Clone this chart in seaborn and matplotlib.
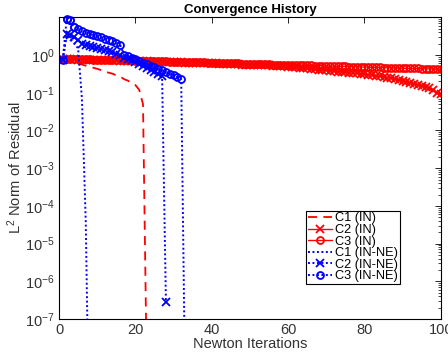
import numpy as np
import pandas as pd
import matplotlib
matplotlib.use("Agg")
import matplotlib.pyplot as plt
import seaborn as sns
from matplotlib.ticker import LogLocator, NullFormatter, FixedLocator

# ---------------- data ----------------
c1_in_iter = list(range(1, 24))
c1_in_res = [0.75, 0.72, 0.67, 0.63, 0.59, 0.56, 0.52, 0.49, 0.46, 0.43,
             0.40, 0.37, 0.34, 0.32, 0.29, 0.27, 0.23, 0.21, 0.18, 0.16,
             0.12, 0.05, 3e-9]

c2_in_iter = list(range(1, 101))
c2_in_res = [0.78, 0.78, 0.77, 0.77, 0.76, 0.76, 0.75, 0.75, 0.74, 0.74,
             0.73, 0.73, 0.73, 0.72, 0.72, 0.71, 0.71, 0.70, 0.70, 0.69,
             0.69, 0.68, 0.68, 0.67, 0.67, 0.66, 0.66, 0.65, 0.65, 0.64,
             0.64, 0.64, 0.63, 0.63, 0.62, 0.62, 0.61, 0.61, 0.61, 0.60,
             0.60, 0.59, 0.59, 0.58, 0.58, 0.57, 0.57, 0.56, 0.56, 0.55,
             0.55, 0.54, 0.54, 0.53, 0.53, 0.52, 0.51, 0.51, 0.50, 0.49,
             0.48, 0.47, 0.46, 0.45, 0.44, 0.43, 0.42, 0.41, 0.40, 0.39,
             0.38, 0.37, 0.36, 0.36, 0.35, 0.34, 0.33, 0.33, 0.32, 0.31,
             0.30, 0.29, 0.28, 0.27, 0.26, 0.25, 0.24, 0.23, 0.22, 0.21,
             0.19, 0.18, 0.17, 0.16, 0.15, 0.14, 0.13, 0.12, 0.10, 0.09]

c3_in_iter = list(range(1, 101))
c3_in_res = [0.80, 0.80, 0.79, 0.79, 0.78, 0.78, 0.77, 0.77, 0.76, 0.76,
             0.75, 0.75, 0.75, 0.74, 0.74, 0.73, 0.73, 0.72, 0.72, 0.71,
             0.71, 0.71, 0.70, 0.70, 0.69, 0.69, 0.68, 0.68, 0.67, 0.67,
             0.67, 0.66, 0.66, 0.65, 0.65, 0.64, 0.64, 0.64, 0.63, 0.63,
             0.62, 0.62, 0.62, 0.61, 0.61, 0.60, 0.60, 0.59, 0.59, 0.59,
             0.58, 0.58, 0.57, 0.57, 0.57, 0.56, 0.56, 0.55, 0.55, 0.55,
             0.54, 0.54, 0.54, 0.53, 0.53, 0.53, 0.52, 0.52, 0.52, 0.51,
             0.51, 0.51, 0.50, 0.50, 0.50, 0.49, 0.49, 0.49, 0.48, 0.48,
             0.48, 0.47, 0.47, 0.47, 0.46, 0.46, 0.46, 0.45, 0.45, 0.45,
             0.44, 0.44, 0.44, 0.44, 0.43, 0.43, 0.43, 0.43, 0.42, 0.42]

c1_ne_iter = list(range(1, 9))
c1_ne_res = [0.75, 3.4, 2.6, 2.0, 1.5, 0.07, 4e-5, 2e-11]

c2_ne_iter = list(range(1, 29))
c2_ne_res = [0.75, 3.6, 3.4, 3.0, 2.45, 2.0, 1.8, 1.75, 1.63, 1.55,
             1.45, 1.35, 1.27, 1.17, 1.08, 1.0, 0.85, 0.80, 0.72, 0.65,
             0.58, 0.52, 0.46, 0.40, 0.35, 0.31, 0.27, 2.9e-7]

c3_ne_iter = list(range(1, 34))
c3_ne_res = [0.75, 9.0, 8.6, 5.5, 4.8, 4.3, 3.9, 3.7, 3.3, 3.2,
             3.0, 2.7, 2.5, 2.3, 2.1, 1.9, 1.0, 0.93, 0.85, 0.78,
             0.70, 0.63, 0.57, 0.52, 0.47, 0.43, 0.39, 0.35, 0.32, 0.29,
             0.26, 0.23, 2.5e-9]

x_ticks = [0, 20, 40, 60, 80, 100]
y_ticks = [1e-7, 1e-6, 1e-5, 1e-4, 1e-3, 1e-2, 1e-1, 1e0]

# ---------------- style ----------------
sns.set_theme(style="white")
plt.rcParams["font.family"] = ["Liberation Sans", "DejaVu Sans"]
plt.rcParams["mathtext.fontset"] = "custom"
plt.rcParams["mathtext.rm"] = "Liberation Sans"
plt.rcParams["mathtext.it"] = "Liberation Sans:italic"
plt.rcParams["axes.edgecolor"] = "black"
plt.rcParams["axes.linewidth"] = 0.8
plt.rcParams["xtick.color"] = "black"
plt.rcParams["ytick.color"] = "black"
plt.rcParams["text.color"] = "#222222"

fig = plt.figure(figsize=(4.48, 3.6), dpi=100)
ax = fig.add_axes([0.1317, 0.1139, 0.8523, 0.838])

red = (1, 0, 0)
blue = (0, 0, 1)
ms_o = 5.0
ms_x = 5.2
mew = 1.3

sns.lineplot(x=c1_in_iter, y=c1_in_res, ax=ax, color=red, linewidth=1.3,
             dashes=False, linestyle=(0, (5, 3.5)), label="C1 (IN)")
sns.lineplot(x=c2_in_iter, y=c2_in_res, ax=ax, color=red, linewidth=1.0,
             marker="x", markersize=ms_x, markeredgecolor=red,
             markeredgewidth=mew, label="C2 (IN)")
sns.lineplot(x=c3_in_iter, y=c3_in_res, ax=ax, color=red, linewidth=1.0,
             marker="o", markersize=ms_o, markeredgecolor=red,
             markerfacecolor="none", markeredgewidth=mew, label="C3 (IN)")
sns.lineplot(x=c1_ne_iter, y=c1_ne_res, ax=ax, color=blue, linewidth=1.4,
             linestyle=(0, (1, 1.3)), label="C1 (IN-NE)")
sns.lineplot(x=c2_ne_iter, y=c2_ne_res, ax=ax, color=blue, linewidth=1.4,
             linestyle=(0, (1, 1.3)), marker="x", markersize=ms_x,
             markeredgecolor=blue, markeredgewidth=mew, label="C2 (IN-NE)")
sns.lineplot(x=c3_ne_iter, y=c3_ne_res, ax=ax, color=blue, linewidth=1.4,
             linestyle=(0, (1, 1.3)), marker="o", markersize=ms_o,
             markeredgecolor=blue, markerfacecolor="none",
             markeredgewidth=mew, label="C3 (IN-NE)")
# unclipped markers near the top edge (as MATLAB draws them)
sns.lineplot(x=c3_ne_iter[1:4], y=c3_ne_res[1:4], ax=ax, color=blue,
             linestyle="none", marker="o", markersize=ms_o,
             markeredgecolor=blue, markerfacecolor="none",
             markeredgewidth=mew, clip_on=False, legend=False)

ax.set_yscale("log")
ax.set_xlim(0, 100)
ax.set_ylim(1e-7, 10)
ax.yaxis.set_major_locator(FixedLocator(y_ticks))
ax.yaxis.set_minor_locator(LogLocator(base=10, subs=np.arange(2, 10)))
ax.yaxis.set_minor_formatter(NullFormatter())
ax.set_xticks(x_ticks)
ax.set_xticklabels([str(t) for t in x_ticks])

ax.tick_params(which="both", direction="in", top=True, right=True,
               labelsize=10.5, colors="black", labelcolor="#333333")
ax.tick_params(which="major", length=4, width=0.6, pad=3)
ax.tick_params(which="minor", length=2, width=0.5)
for s in ax.spines.values():
    s.set_visible(True)
    s.set_color("black")
    s.set_linewidth(0.8)

ax.set_xlabel("Newton Iterations", fontsize=10.5, labelpad=0, color="#333333")
ax.set_ylabel("L$^2$ Norm of Residual", fontsize=10.5, labelpad=1, color="#333333")
ax.set_title("Convergence History", fontsize=9.5, fontweight="bold",
             pad=3, color="black")

leg = ax.legend(loc="lower left", bbox_to_anchor=(0.648, 0.116),
                borderaxespad=0, fontsize=9.2, frameon=True, fancybox=False,
                framealpha=1, edgecolor="black", labelspacing=-0.03,
                handlelength=1.9, handletextpad=0.25, borderpad=0.12)
leg.get_frame().set_linewidth(0.8)
for t in leg.get_texts():
    t.set_color("black")

fig.savefig("out.png", dpi=100)
